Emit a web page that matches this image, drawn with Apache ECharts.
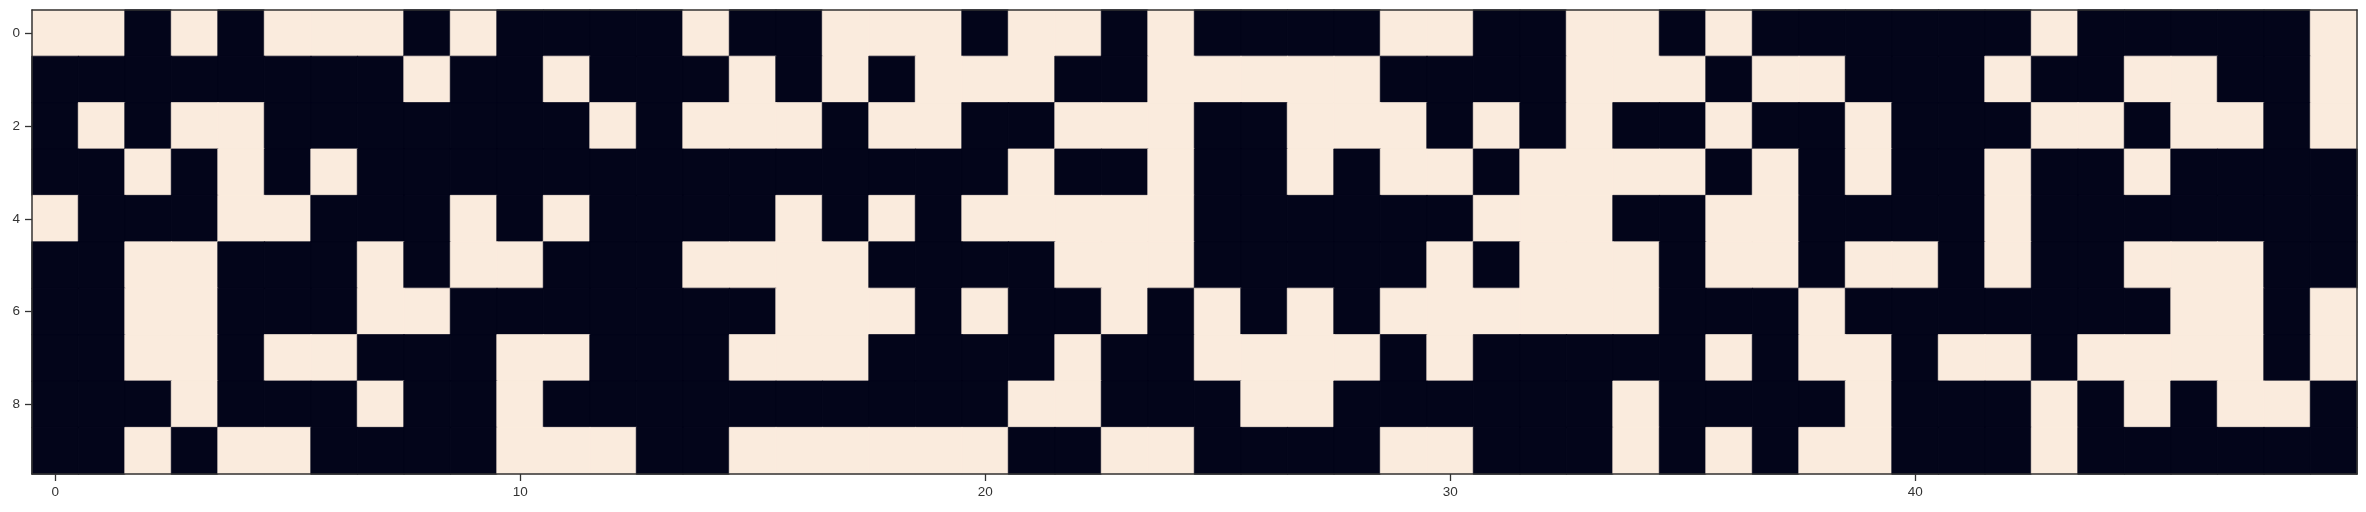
<!DOCTYPE html>
<html>
<head>
<meta charset="utf-8">
<script src="https://cdn.jsdelivr.net/npm/echarts@6/dist/echarts.min.js"></script>
<style>
html,body{margin:0;padding:0;background:#fff;}
#chart{width:2366px;height:512px;}
</style>
</head>
<body>
<div id="chart"></div>
<script>
// Binary grid values, one array per row (row index 0..9, column index 0..49)
const row0 = [1,1,0,1,0,1,1,1,0,1, 0,0,0,0,1,0,0,1,1,1, 0,1,1,0,1,0,0,0,0,1, 1,0,0,1,1,0,1,0,0,0, 0,0,0,1,0,0,0,0,0,1];
const row1 = [0,0,0,0,0,0,0,0,1,0, 0,1,0,0,0,1,0,1,0,1, 1,1,0,0,1,1,1,1,1,0, 0,0,0,1,1,1,0,1,1,0, 0,0,1,0,0,1,1,0,0,1];
const row2 = [0,1,0,1,1,0,0,0,0,0, 0,0,1,0,1,1,1,0,1,1, 0,0,1,1,1,0,0,1,1,1, 0,1,0,1,0,0,1,0,0,1, 0,0,0,1,1,0,1,1,0,1];
const row3 = [0,0,1,0,1,0,1,0,0,0, 0,0,0,0,0,0,0,0,0,0, 0,1,0,0,1,0,0,1,0,1, 1,0,1,1,1,1,0,1,0,1, 0,0,1,0,0,1,0,0,0,0];
const row4 = [1,0,0,0,1,1,0,0,0,1, 0,1,0,0,0,0,1,0,1,0, 1,1,1,1,1,0,0,0,0,0, 0,1,1,1,0,0,1,1,0,0, 0,0,1,0,0,0,0,0,0,0];
const row5 = [0,0,1,1,0,0,0,1,0,1, 1,0,0,0,1,1,1,1,0,0, 0,0,1,1,1,0,0,0,0,0, 1,0,1,1,1,0,1,1,0,1, 1,0,1,0,0,1,1,1,0,0];
const row6 = [0,0,1,1,0,0,0,1,1,0, 0,0,0,0,0,0,1,1,1,0, 1,0,0,1,0,1,0,1,0,1, 1,1,1,1,1,0,0,0,1,0, 0,0,0,0,0,0,1,1,0,1];
const row7 = [0,0,1,1,0,1,1,0,0,0, 1,1,0,0,0,1,1,1,0,0, 0,0,1,0,0,1,1,1,1,0, 1,0,0,0,0,0,1,0,1,1, 0,1,1,0,1,1,1,1,0,1];
const row8 = [0,0,0,1,0,0,0,1,0,0, 1,0,0,0,0,0,0,0,0,0, 0,1,1,0,0,0,1,1,0,0, 0,0,0,0,1,0,0,0,0,1, 0,0,0,1,0,1,0,1,1,0];
const row9 = [0,0,1,0,1,1,0,0,0,0, 1,1,1,0,0,1,1,1,1,1, 1,0,0,1,1,0,0,0,0,1, 1,0,0,0,1,0,1,0,1,1, 0,0,0,1,0,0,0,0,0,0];
const rows = [row0,row1,row2,row3,row4,row5,row6,row7,row8,row9];

const xCategories = Array.from({length: 50}, (_, i) => String(i));
const yCategories = Array.from({length: 10}, (_, i) => String(i));
const xTickEvery = 10;
const yTickEvery = 2;

const palette = ['#03051a', '#faebdd'];
const data = [];
rows.forEach((r, ri) => r.forEach((v, ci) => data.push({
  value: [ci, ri, v],
  itemStyle: {color: palette[v], borderColor: palette[v], borderWidth: 0.7}
})));

const spine = '#333333';
const labelColor = '#333333';
const font = '"Liberation Sans", Arial, sans-serif';

const chart = echarts.init(document.getElementById('chart'), null, {renderer: 'canvas'});
chart.setOption({
  animation: false,
  backgroundColor: '#ffffff',
  grid: {left: 32, top: 10, width: 2325, height: 464, containLabel: false},
  xAxis: [{
    type: 'category', data: xCategories, position: 'bottom', z: 10,
    splitArea: {show: false}, splitLine: {show: false},
    axisLine: {show: true, lineStyle: {color: spine, width: 1.5}},
    axisTick: {show: true, alignWithLabel: true, length: 7, lineStyle: {color: spine, width: 1.3},
      interval: (i) => i % xTickEvery === 0},
    axisLabel: {show: true, color: labelColor, fontSize: 13.5, fontFamily: font, margin: 11,
      interval: (i) => i % xTickEvery === 0}
  }, {
    type: 'category', data: xCategories, position: 'top', z: 10,
    axisLine: {show: true, lineStyle: {color: spine, width: 1.5}},
    axisTick: {show: false}, axisLabel: {show: false}, splitLine: {show: false}
  }],
  yAxis: [{
    type: 'category', data: yCategories, inverse: true, position: 'left', z: 10,
    splitArea: {show: false}, splitLine: {show: false},
    axisLine: {show: true, lineStyle: {color: spine, width: 1.5}},
    axisTick: {show: true, alignWithLabel: true, length: 7, lineStyle: {color: spine, width: 1.3},
      interval: (i) => i % yTickEvery === 0},
    axisLabel: {show: true, color: labelColor, fontSize: 13.5, fontFamily: font, margin: 12,
      interval: (i) => i % yTickEvery === 0}
  }, {
    type: 'category', data: yCategories, inverse: true, position: 'right', z: 10,
    axisLine: {show: true, lineStyle: {color: spine, width: 1.5}},
    axisTick: {show: false}, axisLabel: {show: false}, splitLine: {show: false}
  }],
  series: [{
    type: 'heatmap', xAxisIndex: 0, yAxisIndex: 0, data: data,
    emphasis: {disabled: true},
    label: {show: false}
  }]
});
</script>
</body>
</html>
